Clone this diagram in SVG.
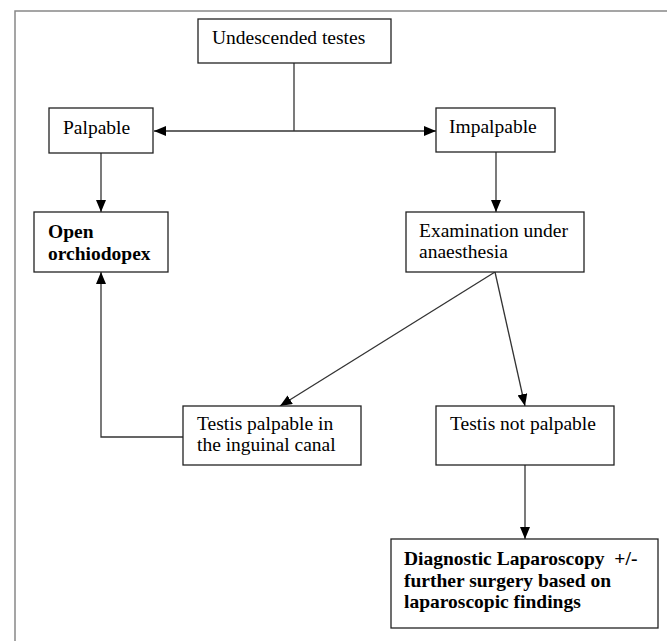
<svg xmlns="http://www.w3.org/2000/svg" width="667" height="641" viewBox="0 0 667 641">
  <defs>
    <marker id="arrow" viewBox="0 0 12 10" refX="12" refY="5" markerWidth="12" markerHeight="10" markerUnits="userSpaceOnUse" orient="auto">
      <path d="M0,0 L12,5 L0,10 z" fill="#000"/>
    </marker>
    <style>
      .box { fill: #fff; stroke: #222; stroke-width: 1.3; }
      .frame { fill: none; stroke: #888; stroke-width: 1.5; }
      .link { fill: none; stroke: #333; stroke-width: 1.3; }
      .label { font-family: "Liberation Serif", "Times New Roman", serif; font-size: 19.5px; fill: #000; }
      .bold { font-weight: bold; }
    </style>
  </defs>

  <rect width="667" height="641" fill="#fff"/>

  <!-- outer frame -->
  <path class="frame" d="M15,641 L15,11 L667,11"/>

  <g id="connectors">
    <line class="link" x1="294" y1="63" x2="294" y2="131"/>
    <line class="link" x1="294" y1="131" x2="154" y2="131" marker-end="url(#arrow)"/>
    <line class="link" x1="294" y1="131" x2="436" y2="131" marker-end="url(#arrow)"/>
    <line class="link" x1="101" y1="153" x2="101" y2="212" marker-end="url(#arrow)"/>
    <line class="link" x1="496" y1="152" x2="496" y2="212" marker-end="url(#arrow)"/>
    <line class="link" x1="495" y1="272" x2="280" y2="406" marker-end="url(#arrow)"/>
    <line class="link" x1="495" y1="272" x2="525" y2="406" marker-end="url(#arrow)"/>
    <polyline class="link" points="183,437 101,437 101,272" marker-end="url(#arrow)"/>
    <line class="link" x1="525" y1="465" x2="525" y2="539" marker-end="url(#arrow)"/>
  </g>

  <g id="undescended">
    <rect class="box" x="198" y="19" width="193" height="44"/>
    <text class="label" x="212" y="44">Undescended testes</text>
  </g>

  <g id="palpable">
    <rect class="box" x="49" y="108" width="104" height="45"/>
    <text class="label" x="63" y="134">Palpable</text>
  </g>

  <g id="impalpable">
    <rect class="box" x="436" y="108" width="119" height="44"/>
    <text class="label" x="449" y="133">Impalpable</text>
  </g>

  <g id="open-orchiodopex">
    <rect class="box" x="34" y="212" width="134" height="60"/>
    <text class="label bold" x="48" y="238">Open</text>
    <text class="label bold" x="48" y="260">orchiodopex</text>
  </g>

  <g id="examination">
    <rect class="box" x="406" y="212" width="178" height="60"/>
    <text class="label" x="419" y="237">Examination under</text>
    <text class="label" x="419" y="258">anaesthesia</text>
  </g>

  <g id="testis-palpable">
    <rect class="box" x="183" y="406" width="178" height="59"/>
    <text class="label" x="197" y="430">Testis palpable in</text>
    <text class="label" x="197" y="451">the inguinal canal</text>
  </g>

  <g id="testis-not-palpable">
    <rect class="box" x="436" y="406" width="178" height="59"/>
    <text class="label" x="450" y="430">Testis not palpable</text>
  </g>

  <g id="laparoscopy">
    <rect class="box" x="391" y="539" width="267" height="89"/>
    <text class="label bold" x="404" y="565" xml:space="preserve">Diagnostic Laparoscopy  +/-</text>
    <text class="label bold" x="404" y="587">further surgery based on</text>
    <text class="label bold" x="404" y="608">laparoscopic findings</text>
  </g>
</svg>
